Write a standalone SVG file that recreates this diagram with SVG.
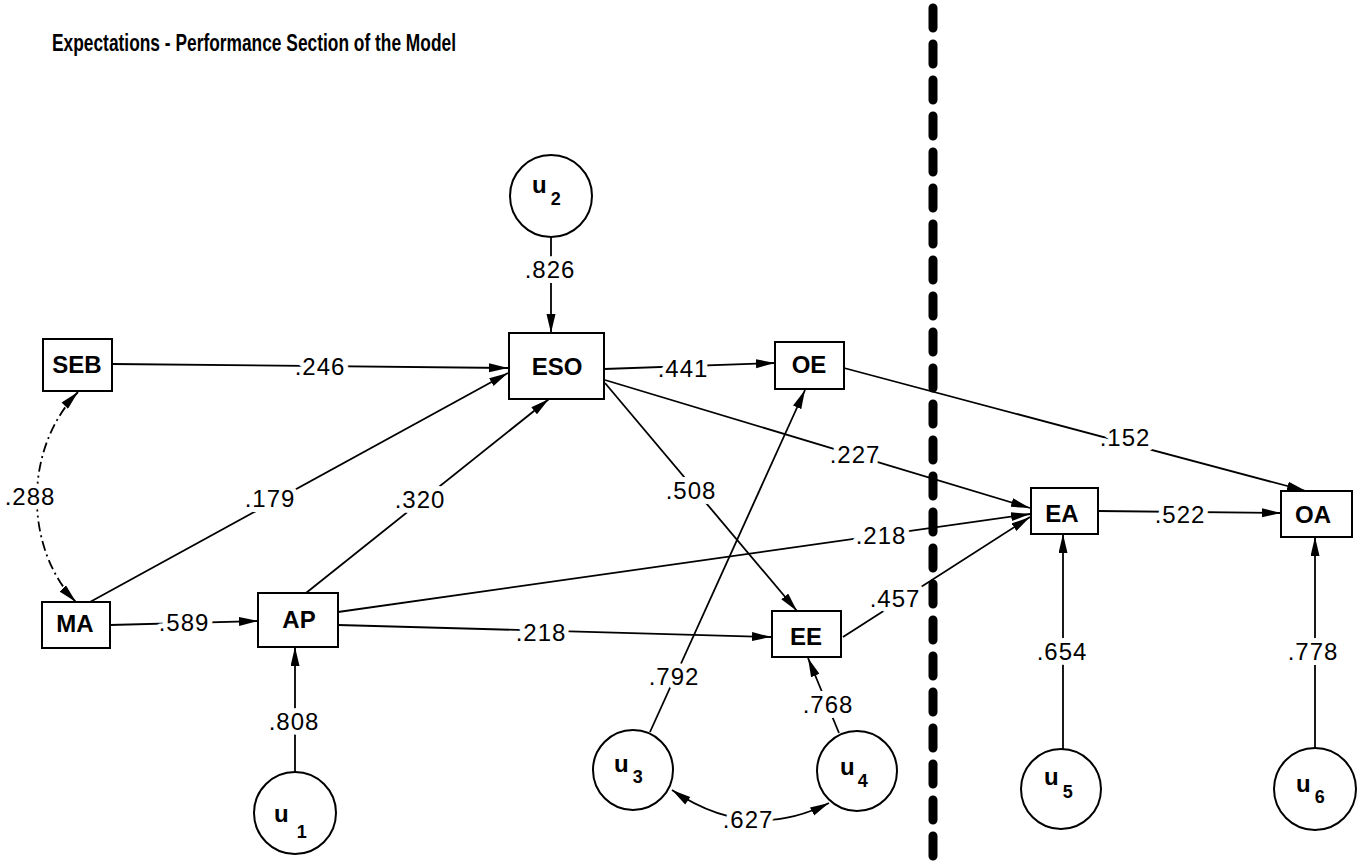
<svg xmlns="http://www.w3.org/2000/svg" width="1362" height="865" viewBox="0 0 1362 865">
<style>
.box{fill:#fff;stroke:#000;stroke-width:2}
.circ{fill:#fff;stroke:#000;stroke-width:2}
.nt{font-family:"Liberation Sans",Arial,sans-serif;font-weight:bold;font-size:24px;text-anchor:middle;fill:#000}
.ut{font-family:"Liberation Sans",Arial,sans-serif;font-weight:bold;font-size:24px;fill:#000}
.sub{font-size:18px}
.e{fill:none;stroke:#000;stroke-width:1.8}
.lb{font-family:"Liberation Sans",Arial,sans-serif;font-size:24px;letter-spacing:1px;text-anchor:middle;fill:#000;stroke:#fff;stroke-width:10px;stroke-linejoin:round;paint-order:stroke}
.title{font-family:"Liberation Sans",Arial,sans-serif;font-weight:bold;font-size:24px;fill:#000}
</style>
<defs>
<marker id="ah" markerUnits="userSpaceOnUse" markerWidth="20" markerHeight="10" refX="19" refY="4.5" orient="auto">
<path d="M0,0 L19,4.5 L0,9 z" fill="#000"/>
</marker>
<marker id="ahs" markerUnits="userSpaceOnUse" markerWidth="20" markerHeight="10" refX="0" refY="4.5" orient="auto">
<path d="M19,0 L0,4.5 L19,9 z" fill="#000"/>
</marker>
</defs>
<rect width="1362" height="865" fill="#fff"/>
<text class="title" x="52" y="51" textLength="404" lengthAdjust="spacingAndGlyphs">Expectations - Performance Section of the Model</text>
<line x1="933" y1="8" x2="933" y2="858" stroke="#000" stroke-width="9" stroke-linecap="round" stroke-dasharray="20 16"/>
<g id="connectors">
<path class="e" d="M112,364 L508,368" marker-end="url(#ah)"/>
<path class="e" d="M90,602 L508,373" marker-end="url(#ah)"/>
<path class="e" d="M306,593 L549,399" marker-end="url(#ah)"/>
<path class="e" d="M110,625 L258,621" marker-end="url(#ah)"/>
<path class="e" d="M78,392 C22,450 25,550 76,602" stroke-dasharray="10 4 2 4" marker-start="url(#ahs)" marker-end="url(#ah)"/>
<path class="e" d="M295,772 L295,647" marker-end="url(#ah)"/>
<path class="e" d="M551,237 L551,333" marker-end="url(#ah)"/>
<path class="e" d="M604,369 L775,363" marker-end="url(#ah)"/>
<path class="e" d="M605,383 L797,611" marker-end="url(#ah)"/>
<path class="e" d="M605,380 L1030,508" marker-end="url(#ah)"/>
<path class="e" d="M844,368 L1306,491" marker-end="url(#ah)"/>
<path class="e" d="M338,612 L1030,514" marker-end="url(#ah)"/>
<path class="e" d="M338,625 L771,637" marker-end="url(#ah)"/>
<path class="e" d="M843,637 L1030,517" marker-end="url(#ah)"/>
<path class="e" d="M650,732 L805,390" marker-end="url(#ah)"/>
<path class="e" d="M839,733 L808,658" marker-end="url(#ah)"/>
<path class="e" d="M672,790 Q750,843 829,803" marker-start="url(#ahs)" marker-end="url(#ah)"/>
<path class="e" d="M1098,511 L1281,513" marker-end="url(#ah)"/>
<path class="e" d="M1063,749 L1063,534" marker-end="url(#ah)"/>
<path class="e" d="M1315,748 L1315,537" marker-end="url(#ah)"/>
<text class="lb" x="320" y="375">.246</text>
<text class="lb" x="270" y="507">.179</text>
<text class="lb" x="420" y="508">.320</text>
<text class="lb" x="184" y="631">.589</text>
<text class="lb" x="30" y="505">.288</text>
<text class="lb" x="294" y="730">.808</text>
<text class="lb" x="550" y="278">.826</text>
<text class="lb" x="683" y="377">.441</text>
<text class="lb" x="691" y="499">.508</text>
<text class="lb" x="855" y="463">.227</text>
<text class="lb" x="1125" y="446">.152</text>
<text class="lb" x="881" y="544">.218</text>
<text class="lb" x="541" y="641">.218</text>
<text class="lb" x="895" y="607">.457</text>
<text class="lb" x="674" y="685">.792</text>
<text class="lb" x="828" y="713">.768</text>
<text class="lb" x="748" y="828">.627</text>
<text class="lb" x="1180" y="523">.522</text>
<text class="lb" x="1062" y="660">.654</text>
<text class="lb" x="1313" y="660">.778</text>
</g>
<g id="SEB"><rect class="box" x="43" y="339" width="69" height="52"/><text class="nt" x="77" y="373">SEB</text></g>
<g id="MA"><rect class="box" x="42" y="602" width="68" height="46"/><text class="nt" x="75" y="632">MA</text></g>
<g id="AP"><rect class="box" x="258" y="593" width="80" height="54"/><text class="nt" x="299" y="628">AP</text></g>
<g id="ESO"><rect class="box" x="509" y="333" width="95" height="66"/><text class="nt" x="557" y="375">ESO</text></g>
<g id="OE"><rect class="box" x="775" y="342" width="69" height="47"/><text class="nt" x="809" y="373">OE</text></g>
<g id="EE"><rect class="box" x="772" y="611" width="69" height="46"/><text class="nt" x="806" y="645">EE</text></g>
<g id="EA"><rect class="box" x="1031" y="488" width="67" height="46"/><text class="nt" x="1062" y="522">EA</text></g>
<g id="OA"><rect class="box" x="1281" y="491" width="71" height="46"/><text class="nt" x="1313" y="523">OA</text></g>
<g id="u1"><circle class="circ" cx="295" cy="813" r="41"/><text class="ut" x="274" y="822">u<tspan class="sub" dx="8" dy="16">1</tspan></text></g>
<g id="u2"><circle class="circ" cx="551" cy="196" r="41"/><text class="ut" x="532" y="193">u<tspan class="sub" dx="4" dy="12">2</tspan></text></g>
<g id="u3"><circle class="circ" cx="633" cy="770" r="40"/><text class="ut" x="614" y="772">u<tspan class="sub" dx="4" dy="11">3</tspan></text></g>
<g id="u4"><circle class="circ" cx="857" cy="771" r="40"/><text class="ut" x="840" y="775">u<tspan class="sub" dx="3" dy="12">4</tspan></text></g>
<g id="u5"><circle class="circ" cx="1061" cy="789" r="40"/><text class="ut" x="1044" y="785">u<tspan class="sub" dx="4" dy="13">5</tspan></text></g>
<g id="u6"><circle class="circ" cx="1315" cy="789" r="41"/><text class="ut" x="1296" y="792">u<tspan class="sub" dx="4" dy="11">6</tspan></text></g>
</svg>
